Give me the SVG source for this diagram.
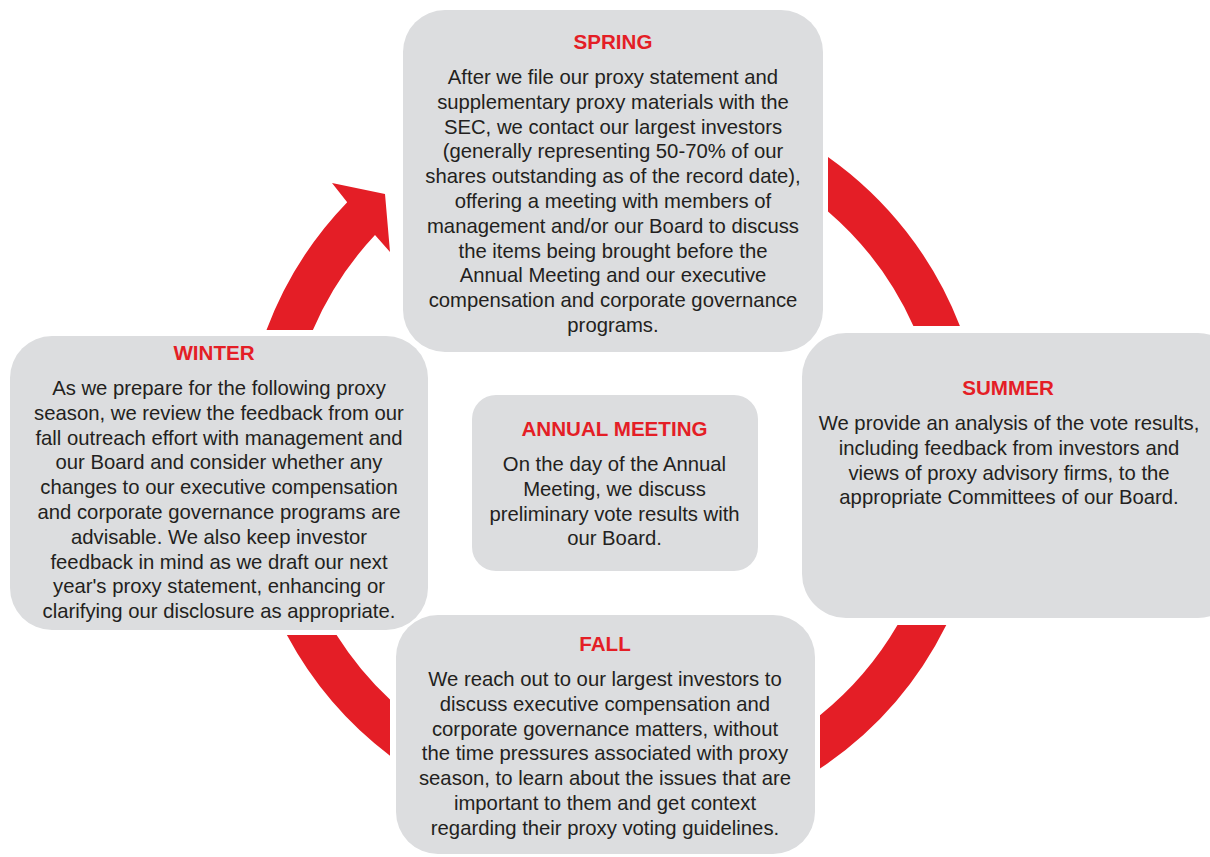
<svg xmlns="http://www.w3.org/2000/svg" width="1210" height="857" viewBox="0 0 1210 857">
<style>
.box{fill:#DCDDDF}
.arc{fill:#E41E26}
text{font-family:"Liberation Sans",Arial,sans-serif;font-size:20.3px;text-anchor:middle}
.t{fill:#E41E26;font-weight:bold;font-size:20.6px}
.b{fill:#231F20}
</style>
<rect width="1210" height="857" fill="#FFFFFF"/>
<g id="connectors">
<path class="arc" d="M 266.5 330 A 371 371 0 0 1 347.2 202.2 L 332 183 L 385 194 L 390 252 L 375 235 A 328 328 0 0 0 312.9 330 Z"/>
<path class="arc" d="M 828 156.9 A 371 371 0 0 1 959.9 326 L 913.4 326 A 328 328 0 0 0 828 211.4 Z"/>
<path class="arc" d="M 946.3 625 A 371 371 0 0 1 820 768.6 L 820 715.2 A 328 328 0 0 0 897.5 625 Z"/>
<path class="arc" d="M 390 755.7 A 371 371 0 0 1 286.9 635 L 336.6 635 A 328 328 0 0 0 390 699.6 Z"/>
</g>
<g id="spring">
<rect class="box" x="403" y="10" width="420" height="342" rx="42"/>
<text class="t" x="613" y="49">SPRING</text>
<text class="b" x="613" y="84">After we file our proxy statement and</text>
<text class="b" x="613" y="108.8">supplementary proxy materials with the</text>
<text class="b" x="613" y="133.6">SEC, we contact our largest investors</text>
<text class="b" x="613" y="158.4">(generally representing 50-70% of our</text>
<text class="b" x="613" y="183.2">shares outstanding as of the record date),</text>
<text class="b" x="613" y="208">offering a meeting with members of</text>
<text class="b" x="613" y="232.8">management and/or our Board to discuss</text>
<text class="b" x="613" y="257.6">the items being brought before the</text>
<text class="b" x="613" y="282.4">Annual Meeting and our executive</text>
<text class="b" x="613" y="307.2">compensation and corporate governance</text>
<text class="b" x="613" y="332">programs.</text>
</g>
<g id="summer">
<rect class="box" x="802" y="333" width="440" height="285" rx="44"/>
<text class="t" x="1008" y="395">SUMMER</text>
<text class="b" x="1009" y="430">We provide an analysis of the vote results,</text>
<text class="b" x="1009" y="454.8">including feedback from investors and</text>
<text class="b" x="1009" y="479.6">views of proxy advisory firms, to the</text>
<text class="b" x="1009" y="504.4">appropriate Committees of our Board.</text>
</g>
<g id="winter">
<rect class="box" x="10" y="336" width="418" height="294" rx="42"/>
<text class="t" x="214" y="360">WINTER</text>
<text class="b" x="219" y="395">As we prepare for the following proxy</text>
<text class="b" x="219" y="419.8">season, we review the feedback from our</text>
<text class="b" x="219" y="444.6">fall outreach effort with management and</text>
<text class="b" x="219" y="469.4">our Board and consider whether any</text>
<text class="b" x="219" y="494.2">changes to our executive compensation</text>
<text class="b" x="219" y="519">and corporate governance programs are</text>
<text class="b" x="219" y="543.8">advisable. We also keep investor</text>
<text class="b" x="219" y="568.6">feedback in mind as we draft our next</text>
<text class="b" x="219" y="593.4">year's proxy statement, enhancing or</text>
<text class="b" x="219" y="618.2">clarifying our disclosure as appropriate.</text>
</g>
<g id="annual-meeting">
<rect class="box" x="472" y="395" width="286" height="176" rx="24"/>
<text class="t" x="614.5" y="436">ANNUAL MEETING</text>
<text class="b" x="614.5" y="471">On the day of the Annual</text>
<text class="b" x="614.5" y="495.8">Meeting, we discuss</text>
<text class="b" x="614.5" y="520.6">preliminary vote results with</text>
<text class="b" x="614.5" y="545.4">our Board.</text>
</g>
<g id="fall">
<rect class="box" x="396" y="615" width="419" height="239" rx="42"/>
<text class="t" x="605" y="651">FALL</text>
<text class="b" x="605" y="686">We reach out to our largest investors to</text>
<text class="b" x="605" y="710.8">discuss executive compensation and</text>
<text class="b" x="605" y="735.6">corporate governance matters, without</text>
<text class="b" x="605" y="760.4">the time pressures associated with proxy</text>
<text class="b" x="605" y="785.2">season, to learn about the issues that are</text>
<text class="b" x="605" y="810">important to them and get context</text>
<text class="b" x="605" y="834.8">regarding their proxy voting guidelines.</text>
</g>
</svg>
